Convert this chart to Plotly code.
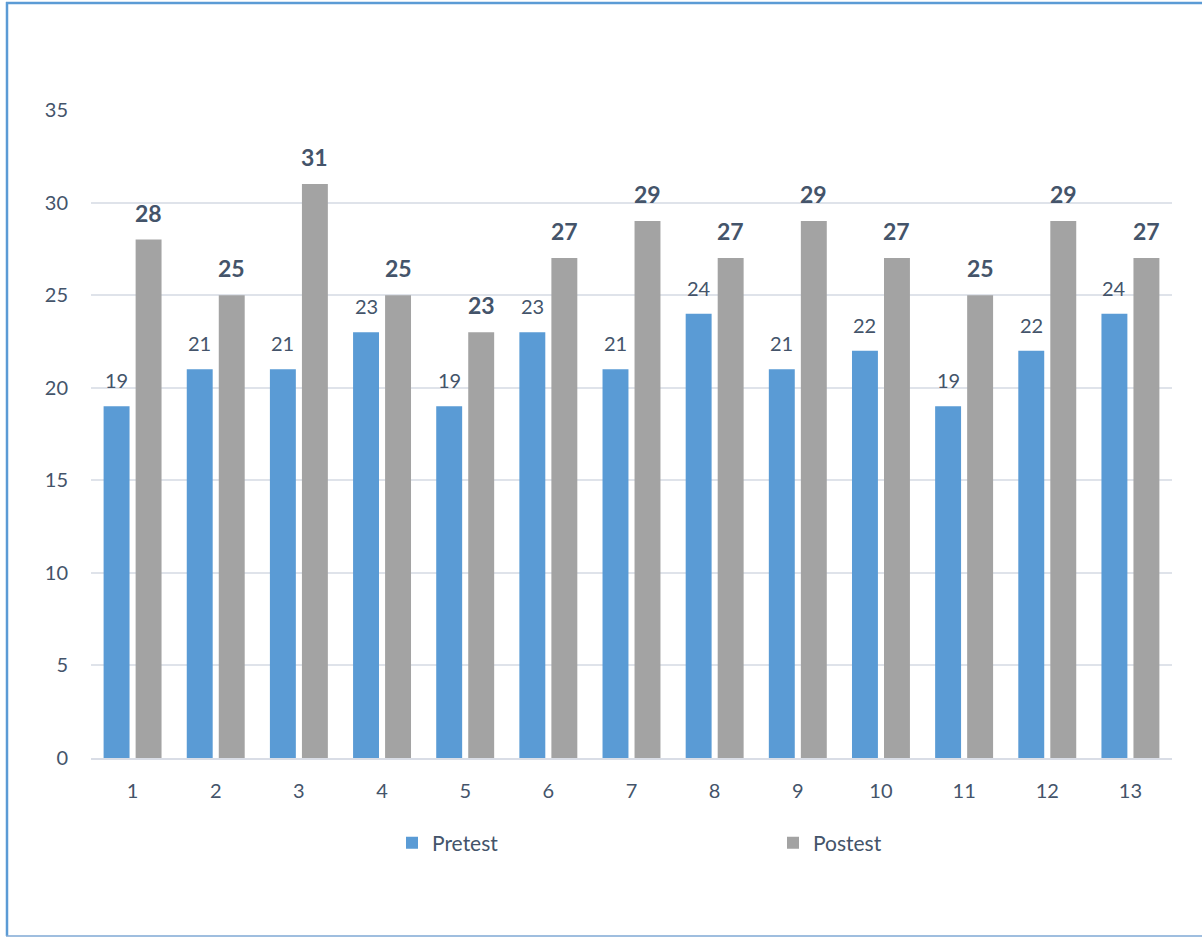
import plotly.graph_objects as go

# Scores per participant
participants = [str(i) for i in range(1, 14)]
pretest = [19, 21, 21, 23, 19, 23, 21, 24, 21, 22, 19, 22, 24]
postest = [28, 25, 31, 25, 23, 27, 29, 27, 29, 27, 25, 29, 27]
y_ticks = [0, 5, 10, 15, 20, 25, 30, 35]

W, H = 1202, 938
L, R, T, B = 91, 30, 110, 180
TEXT = "#44546a"
FONT = "Lato"

def px_x(px):
    return (px - L) / (W - L - R)

def px_y(py):
    return (H - B - py) / (H - T - B)

fig = go.Figure()
fig.add_trace(go.Bar(name="Pretest", x=participants, y=pretest,
                     marker=dict(color="#5a9bd5", line=dict(width=0))))
fig.add_trace(go.Bar(name="Postest", x=participants, y=postest,
                     marker=dict(color="#a3a3a3", line=dict(width=0))))

# value labels above each bar (category axis positions are indices)
annotations = []
for i, v in enumerate(pretest):
    annotations.append(dict(x=i, y=v, xref="x", yref="y", text=str(v),
                            showarrow=False, xshift=-16, yshift=26,
                            font=dict(family=FONT, size=20, color=TEXT)))
for i, v in enumerate(postest):
    annotations.append(dict(x=i, y=v, xref="x", yref="y", text=f"<b>{v}</b>",
                            showarrow=False, xshift=16, yshift=27,
                            font=dict(family=FONT, size=23, color=TEXT)))

# frame lines on the left, top and bottom edges
border = "#5b9bd5"
shapes = [
    dict(type="line", xref="paper", yref="paper", x0=px_x(7), x1=px_x(7),
         y0=px_y(2), y1=px_y(936), line=dict(color=border, width=2.5)),
    dict(type="line", xref="paper", yref="paper", x0=px_x(6), x1=px_x(1202),
         y0=px_y(3), y1=px_y(3), line=dict(color=border, width=2.5)),
    dict(type="line", xref="paper", yref="paper", x0=px_x(6), x1=px_x(1202),
         y0=px_y(936), y1=px_y(936), line=dict(color="#7fa8d4", width=1.5)),
]

fig.update_layout(
    width=W, height=H,
    margin=dict(l=L, r=R, t=T, b=B),
    paper_bgcolor="white", plot_bgcolor="white",
    barmode="group", bargap=0.23, bargroupgap=0.19,
    font=dict(family=FONT, color=TEXT, size=20),
    annotations=annotations, shapes=shapes,
    legend=dict(orientation="h", x=px_x(392), xanchor="left",
                y=px_y(843), yanchor="middle",
                entrywidth=336, entrywidthmode="pixels",
                font=dict(family=FONT, size=21, color=TEXT),
                bgcolor="rgba(0,0,0,0)"),
    xaxis=dict(type="category", showgrid=False, showline=True,
               linecolor="#d9dde6", linewidth=1.5, ticks="",
               tickfont=dict(family=FONT, size=20, color=TEXT),
               ticklabelstandoff=14),
    yaxis=dict(range=[0, 35], tickvals=y_ticks, showgrid=True,
               gridcolor="#dfe3ea", gridwidth=1.5, zeroline=False,
               showline=False, ticks="",
               tickfont=dict(family=FONT, size=20, color=TEXT),
               ticklabelstandoff=22),
)

fig.write_html("out.html")
